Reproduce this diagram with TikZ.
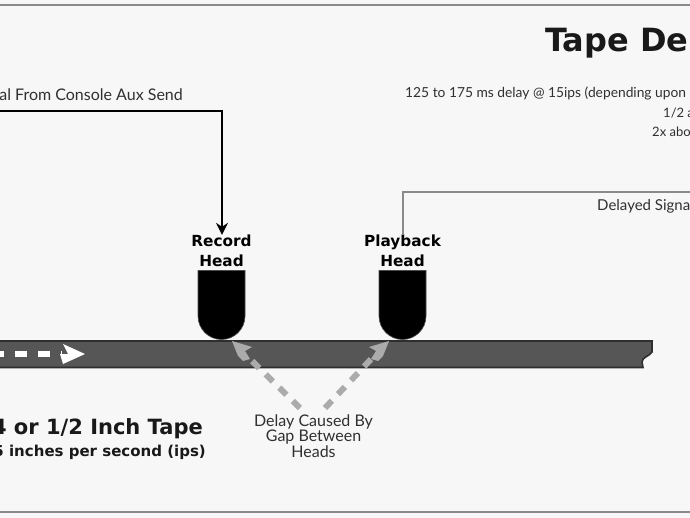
\documentclass[tikz,border=0pt]{standalone}
\usepackage{fontspec}
\setmainfont{Lato}
\newfontfamily\heavyfont{DejaVu Sans}
\usetikzlibrary{arrows.meta}
\definecolor{pagebg}{HTML}{F7F7F7}
\definecolor{rulegray}{HTML}{8A8A8A}
\definecolor{ink}{HTML}{303030}
\definecolor{tapefill}{HTML}{565656}
\definecolor{tapeedge}{HTML}{2E2E2E}
\definecolor{dashgray}{HTML}{ABABAB}
\tikzset{
  x=1pt,y=-1pt,
  lab/.style={inner sep=0pt,text=ink,font=\fontsize{13}{14}\selectfont},
  headlab/.style={inner sep=0pt,align=center,text=black,font=\heavyfont\bfseries\fontsize{15.3}{20}\selectfont},
  tapelab/.style={inner sep=0pt,text=black!90},
  hd/.style={fill=black,draw=black!70,line width=.6pt},
  frame/.style={draw=rulegray,line width=2pt},
  gaparrow/.style={draw=dashgray,line width=6pt,dash pattern=on 10pt off 9pt},
  gaptip/.style={fill=dashgray,draw=none}
}
\begin{document}
\begin{tikzpicture}
\useasboundingbox (0,0) rectangle (690,518);
\clip (0,0) rectangle (690,518);
\fill[pagebg] (0,0) rectangle (690,518);
\coordinate (topL) at (0,5); \coordinate (topR) at (690,5);
\coordinate (botL) at (0,512); \coordinate (botR) at (690,512);
\draw[frame] (topL) -- (topR);
\draw[frame] (botL) -- (botR);
% tape
\path[fill=tapefill,draw=tapeedge,line width=1.6pt] (-5,341) -- (652,341) -- (652,352)
  .. controls (650,356) and (642,357) .. (642,362) -- (643,367.5) -- (-5,367.5) -- cycle;
% heads
\path[hd] (198,270.5) -- (245,270.5) -- (245,316) arc[start angle=0,end angle=180,radius=23.5] -- cycle;
\path[hd] (379,270.5) -- (426,270.5) -- (426,316) arc[start angle=0,end angle=180,radius=23.5] -- cycle;
% titles and labels
\node[anchor=base west,inner sep=0pt,text=black!90,font=\heavyfont\bfseries\fontsize{32}{32}\selectfont] (title) at (545,52) {Tape De};
\node[lab,anchor=base east,font=\fontsize{16}{16}\selectfont] (signal) at (183,101) {al From Console Aux Send};
\node[lab,anchor=base west,font=\fontsize{13.8}{14}\selectfont] (spec1) at (405,98) {125 to 175 ms delay @ 15ips (depending upon};
\node[lab,anchor=base west] (spec2) at (663,118) {1/2 a};
\node[lab,anchor=base west] (spec3) at (652,137) {2x abo};
\node[lab,anchor=base west,font=\fontsize{15}{15}\selectfont] (delayed) at (597,211) {Delayed Signa};
\node[headlab] (rec) at (221.5,251) {Record\\Head};
\node[headlab] (play) at (402.5,251) {Playback\\Head};
\node[tapelab,anchor=base east,font=\heavyfont\bfseries\fontsize{21}{21}\selectfont] (tape) at (203,434) {4 or 1/2 Inch Tape};
\node[tapelab,anchor=base east,font=\heavyfont\bfseries\fontsize{15}{15}\selectfont] (speed) at (206,456) {5 inches per second (ips)};
\node[lab,align=center,font=\fontsize{16}{14}\selectfont] (gap) at (313.5,436) {Delay Caused By\\Gap Between\\Heads};
% connectors
\coordinate (sendin) at (-3,111);
\coordinate (sendcorner) at (222,111);
\draw[black,line width=2.2pt,-{Stealth[length=12pt,width=12pt]}] (sendin) -- (sendcorner) -- (rec.north -| sendcorner);
\coordinate (outcorner) at (402.5,192);
\coordinate (outend) at (695,192);
\draw[rulegray,line width=2pt] (play.north -| outcorner) -- (outcorner) -- (outend);
% tape direction arrow
\coordinate (dirA) at (-8,354);
\coordinate (dirB) at (62,354);
\coordinate (dirTip) at (85,354);
\draw[white,line width=6pt,dash pattern=on 12pt off 11pt] (dirA) -- (dirB);
\fill[white] (dirTip) -- (63,344) -- (68,354) -- (60,354) -- (63,364) -- cycle;
% gap arrows
\coordinate (gapLs) at (300,408);
\coordinate (gapLe) at (247,356);
\coordinate (gapLt) at (232,341);
\coordinate (gapRs) at (325,408);
\coordinate (gapRe) at (374,356);
\coordinate (gapRt) at (389,341);
\draw[gaparrow] (gapLs) -- (gapLe);
\draw[gaparrow] (gapRs) -- (gapRe);
\fill[gaptip] (gapLt) -- (252,347) -- (245,351) -- (250,359) -- (243,361) -- (238,356) -- cycle;
\fill[gaptip] (gapRt) -- (369,347) -- (376,351) -- (371,359) -- (378,361) -- (383,356) -- cycle;
\end{tikzpicture}
\end{document}
